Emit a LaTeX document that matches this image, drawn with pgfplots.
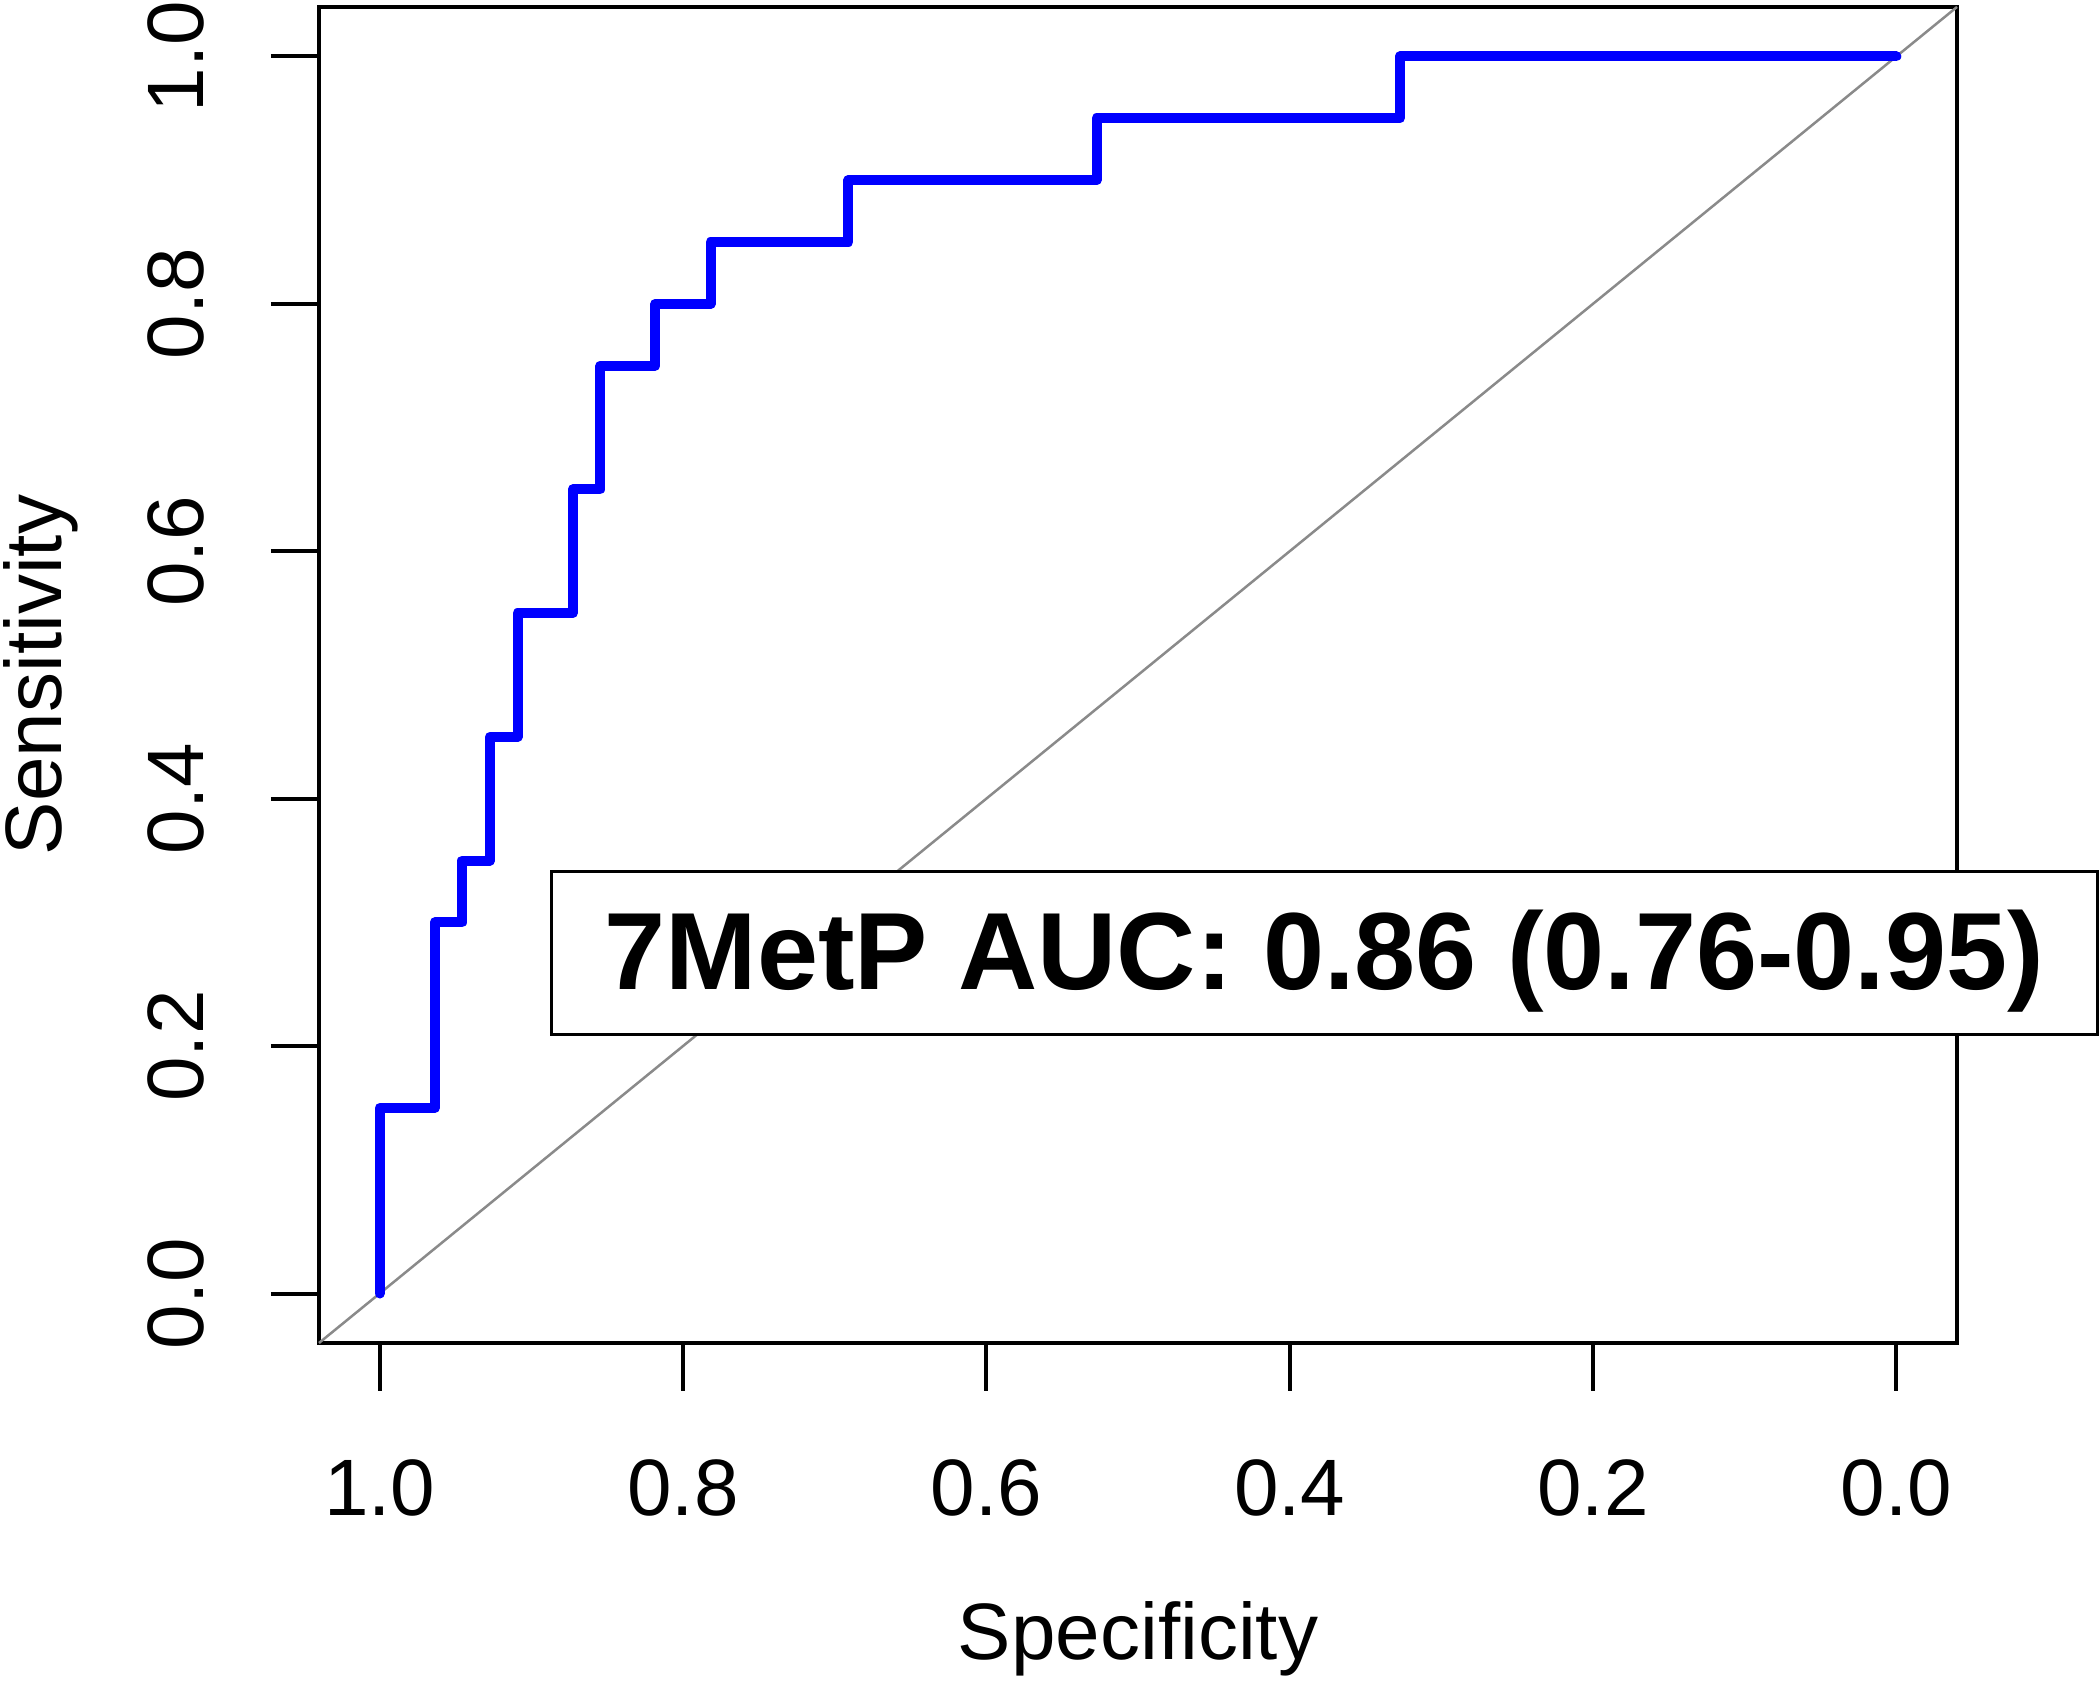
\documentclass[border=0pt]{standalone}
\usepackage{fontspec}
\setmainfont{Liberation Sans}
\usepackage{pgfplots}
\pgfplotsset{compat=1.18}
\definecolor{diaggray}{HTML}{8A8A8A}
\begin{document}
\begin{tikzpicture}
\useasboundingbox (-63.8pt,-67.6pt) rectangle (356.2pt,268.6pt);
\begin{axis}[
  scale only axis,
  width=327.6pt, height=267.2pt,
  x dir=reverse,
  xmin=-0.04, xmax=1.04, ymin=-0.04, ymax=1.04,
  xtick={0,0.2,0.4,0.6,0.8,1.0},
  ytick={0,0.2,0.4,0.6,0.8,1.0},
  minor tick num=0,
  tick align=outside,
  major tick length=9.6pt,
  axis line style={line width=0.9pt},
  every tick/.style={black, line width=0.8pt},
  xtick pos=bottom, ytick pos=left,
  /pgf/number format/.cd, fixed, fixed zerofill, precision=1, assume math mode=true,
  /pgfplots/.cd,
  tick label style={font=\fontsize{16}{19}\selectfont, inner sep=0pt},
  xticklabel style={anchor=north},
  yticklabel style={rotate=90, anchor=south},
  xticklabel shift=13.6pt,
  yticklabel shift=13.2pt,
  every axis x label/.style={at={(axis description cs:0.5,0)}, yshift=-51.6pt, anchor=north, inner sep=0pt, font=\fontsize{16}{19}\selectfont},
  every axis y label/.style={at={(axis description cs:0,0.5)}, xshift=-51.4pt, rotate=90, anchor=base, inner sep=0pt, font=\fontsize{16}{19}\selectfont},
  xlabel={Specificity},
  ylabel={Sensitivity},
  clip=false,
]
\addplot[diaggray, line width=0.5pt] coordinates {(1.04,-0.04) (-0.04,1.04)};
\addplot[color={rgb,255:red,0;green,0;blue,255}, line width=2pt, line cap=round, line join=round] coordinates {
(1,0) (1,0.15) (0.9636,0.15) (0.9636,0.30) (0.9455,0.30) (0.9455,0.35)
(0.9273,0.35) (0.9273,0.45) (0.9091,0.45) (0.9091,0.55) (0.8727,0.55)
(0.8727,0.65) (0.8545,0.65) (0.8545,0.75) (0.8182,0.75) (0.8182,0.80)
(0.7818,0.80) (0.7818,0.85) (0.6909,0.85) (0.6909,0.90) (0.5273,0.90)
(0.5273,0.95) (0.3273,0.95) (0.3273,1.0) (0,1.0)};
\node[draw=black, line width=0.6pt, fill=white, minimum width=309.2pt, minimum height=32.6pt, inner sep=0pt, text height=15.6pt, text depth=1.1pt, font=\fontsize{21.95}{26}\selectfont\bfseries] at (axis cs:0.377,0.275) {7MetP AUC: 0.86 (0.76-0.95)};
\end{axis}
\end{tikzpicture}
\end{document}
